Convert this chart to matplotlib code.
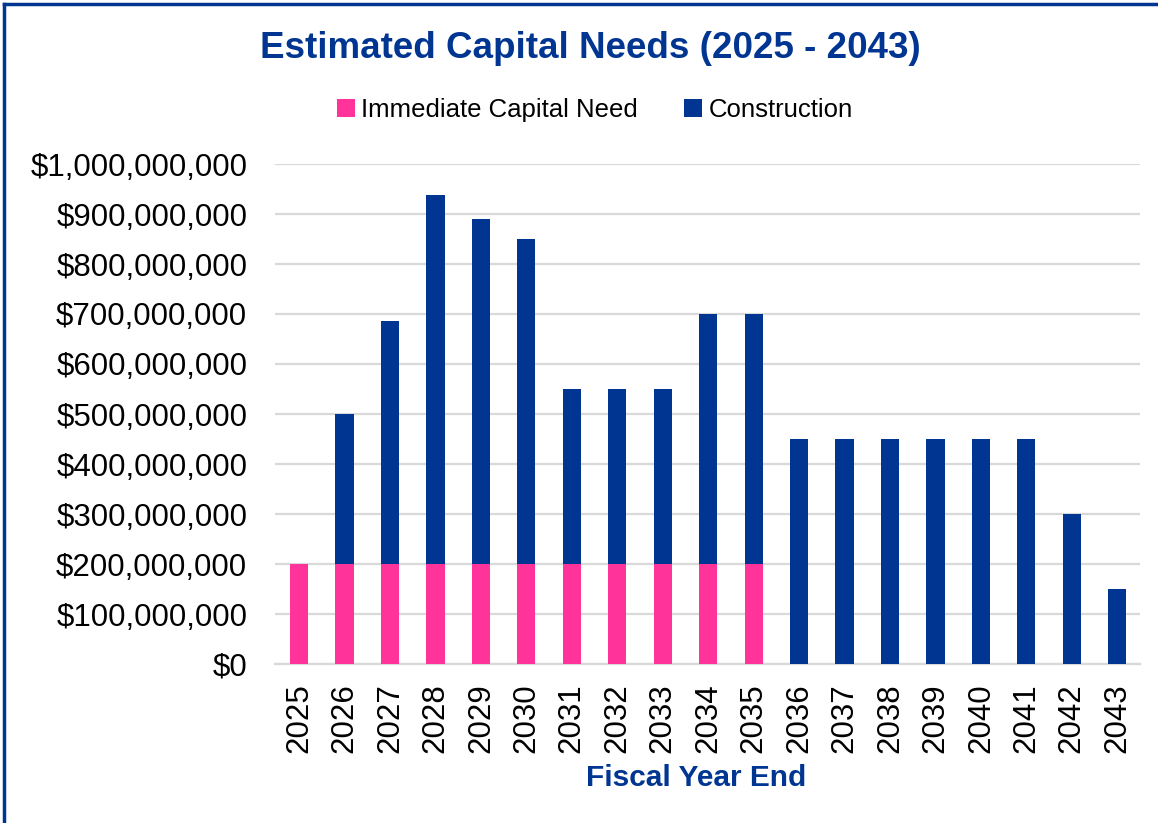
import numpy as np
import matplotlib
matplotlib.use("Agg")
import matplotlib.pyplot as plt
from matplotlib.ticker import FuncFormatter

plt.rcParams['font.family'] = ['Liberation Sans', 'DejaVu Sans']

# Datos (millones de dolares)
anios = [str(a) for a in range(2025, 2044)]
necesidad_inmediata = [200, 200, 200, 200, 200, 200, 200, 200, 200, 200, 200,
                       0, 0, 0, 0, 0, 0, 0, 0]
construccion = [0, 300, 486, 738, 690, 650, 350, 350, 350, 500, 500,
                450, 450, 450, 450, 450, 450, 300, 150]

ROSA = '#FF3399'
AZUL = '#003591'

fig = plt.figure(figsize=(11.58, 8.23), dpi=100)
ax = fig.add_axes([275 / 1158, 159 / 823, 865 / 1158, 500 / 823])

x = np.arange(len(anios))
inm = np.array(necesidad_inmediata) * 1e6
con = np.array(construccion) * 1e6
ax.bar(x, inm, width=0.4, color=ROSA, label='Immediate Capital Need', zorder=3)
ax.bar(x, con, width=0.4, bottom=inm, color=AZUL, label='Construction', zorder=3)

ax.set_xlim(-0.53, len(anios) - 0.5)
ax.set_ylim(0, 1e9)
ax.set_yticks(np.arange(0, 1.01e9, 1e8))
ax.yaxis.set_major_formatter(FuncFormatter(lambda v, p: f"${v:,.0f}"))
ax.set_xticks(x)
ax.set_xticklabels(anios, rotation=90)
ax.tick_params(axis='both', length=0, labelsize=22.5)
ax.tick_params(axis='x', pad=14)
ax.tick_params(axis='y', pad=20)
ax.grid(axis='y', color='#D9D9D9', linewidth=1.6, zorder=0)
for s in ['top', 'right', 'left']:
    ax.spines[s].set_visible(False)
ax.spines['bottom'].set_color('#D9D9D9')
ax.spines['bottom'].set_linewidth(1.6)

ax.set_xlabel('Fiscal Year End', fontsize=21.5, fontweight='bold', color=AZUL)
ax.xaxis.set_label_coords((696 - 275) / 865, -(778 - 664) / 500)
ax.xaxis.label.set_va('center')

fig.text(590 / 1158, 1 - 48 / 823, 'Estimated Capital Needs (2025 - 2043)',
         ha='center', va='center', fontsize=26.5, fontweight='bold', color=AZUL)
fig.legend(loc='center', bbox_to_anchor=(595 / 1158, 1 - 110 / 823), ncol=2,
           frameon=False, fontsize=18.5, handlelength=0.7, handleheight=0.7,
           handletextpad=0.25, columnspacing=1.8)

# borde de la figura
fig.add_artist(plt.Line2D([4 / 1158, 4 / 1158], [0, 1 - 4 / 823], color=AZUL, linewidth=2.5))
fig.add_artist(plt.Line2D([4 / 1158, 1], [1 - 4 / 823, 1 - 4 / 823], color=AZUL, linewidth=2.5))

fig.savefig('out.png', dpi=100)
